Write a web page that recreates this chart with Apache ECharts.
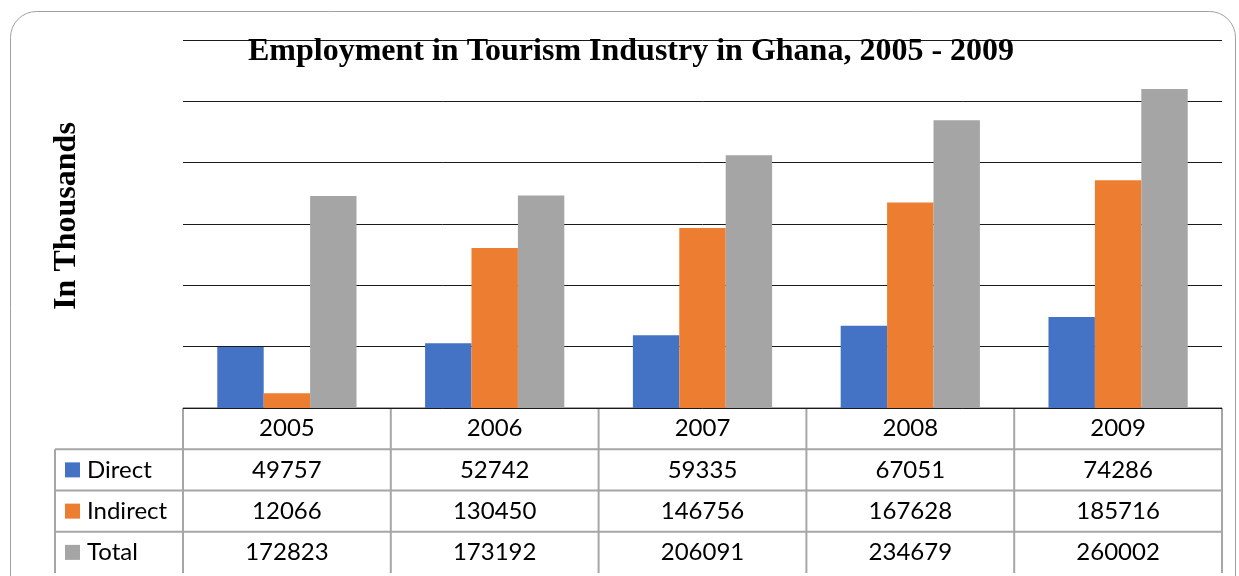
<!DOCTYPE html>
<html>
<head>
<meta charset="utf-8">
<script src="https://cdn.jsdelivr.net/npm/echarts@6/dist/echarts.min.js"></script>
<style>
  html, body { margin: 0; padding: 0; background: #fff; }
  #chart { width: 1239px; height: 576px; }
</style>
</head>
<body>
<div id="chart"></div>
<script>
// Employment in Ghana's tourism industry (thousands)
const years = ['2005', '2006', '2007', '2008', '2009'];
const direct = [49757, 52742, 59335, 67051, 74286];
const indirect = [12066, 130450, 146756, 167628, 185716];
const total = [172823, 173192, 206091, 234679, 260002];
const seriesNames = ['Direct', 'Indirect', 'Total'];
const seriesColors = ['#4472C4', '#ED7D31', '#A5A5A5'];
const seriesData = [direct, indirect, total];

const W = 1239, H = 576;
const plot = { left: 183, right: 1222, top: 40, bottom: 408 };
const tableLeft = 55;
const rowH = (573 - plot.bottom) / 4;
const colW = (plot.right - plot.left) / years.length;
const borderColor = '#a6a6a6';
const tableFont = 'Lato, "Open Sans", sans-serif';
const tableFontSize = 24;

// Data table under the plot: header row of years, then one row per series
function buildTable() {
  const g = [];
  const bw = 2;
  const font = tableFontSize + 'px ' + tableFont;
  // horizontal lines
  g.push({ type: 'line', shape: { x1: plot.left, y1: plot.bottom, x2: plot.right, y2: plot.bottom },
           style: { stroke: borderColor, lineWidth: bw } });
  for (let r = 1; r <= seriesNames.length; r++) {
    const y = plot.bottom + rowH * r;
    g.push({ type: 'line', shape: { x1: tableLeft, y1: y, x2: plot.right, y2: y },
             style: { stroke: borderColor, lineWidth: bw } });
  }
  const yEnd = plot.bottom + rowH * (seriesNames.length + 1);
  // vertical lines
  g.push({ type: 'line', shape: { x1: tableLeft, y1: plot.bottom + rowH, x2: tableLeft, y2: yEnd },
           style: { stroke: borderColor, lineWidth: bw } });
  for (let c = 0; c <= years.length; c++) {
    const x = plot.left + colW * c;
    g.push({ type: 'line', shape: { x1: x, y1: plot.bottom, x2: x, y2: yEnd },
             style: { stroke: borderColor, lineWidth: bw } });
  }
  // header text
  years.forEach((yr, c) => {
    g.push({ type: 'text', x: plot.left + colW * (c + 0.5), y: plot.bottom + rowH * 0.5,
             style: { text: yr, font: font, fill: '#000', align: 'center', verticalAlign: 'middle' } });
  });
  // series rows
  seriesNames.forEach((name, r) => {
    const cy = plot.bottom + rowH * (r + 1.5);
    g.push({ type: 'rect', shape: { x: 65, y: cy - 7.5, width: 15, height: 15 },
             style: { fill: seriesColors[r] } });
    g.push({ type: 'text', x: 87, y: cy,
             style: { text: name, font: font, fill: '#000', align: 'left', verticalAlign: 'middle' } });
    seriesData[r].forEach((v, c) => {
      g.push({ type: 'text', x: plot.left + colW * (c + 0.5), y: cy,
               style: { text: String(v), font: font, fill: '#000', align: 'center', verticalAlign: 'middle' } });
    });
  });
  return g;
}

const chart = echarts.init(document.getElementById('chart'), null, { renderer: 'canvas' });

const graphics = [
  // rounded outer frame
  { type: 'rect', silent: true, z: -10,
    shape: { x: 10.5, y: 11.5, width: 1225, height: 620, r: 26 },
    style: { fill: '#fff', stroke: '#a0a0a0', lineWidth: 1 } },
  // title
  { type: 'text', x: 631, y: 52, z: 100,
    style: { text: 'Employment in Tourism Industry in Ghana, 2005 - 2009',
             font: 'bold 32px "Liberation Serif", "Times New Roman", serif', fill: '#000',
             align: 'center', verticalAlign: 'middle' } },
  // vertical axis title
  { type: 'text', x: 67, y: 216, rotation: Math.PI / 2, z: 100,
    style: { text: 'In Thousands',
             font: 'bold 32px "Liberation Serif", "Times New Roman", serif', fill: '#000',
             align: 'center', verticalAlign: 'middle' } }
].concat(buildTable());

chart.setOption({
  animation: false,
  grid: { left: plot.left, right: W - plot.right, top: plot.top, bottom: H - plot.bottom, containLabel: false },
  xAxis: {
    type: 'category', data: years,
    axisLine: { show: false }, axisTick: { show: false }, axisLabel: { show: false }
  },
  yAxis: {
    type: 'value', min: 0, max: 300000, interval: 50000,
    axisLine: { show: false }, axisTick: { show: false }, axisLabel: { show: false },
    splitLine: { lineStyle: { color: '#1a1a1a', width: 1 } }
  },
  series: seriesNames.map((name, i) => ({
    name: name, type: 'bar', data: seriesData[i],
    barGap: '0%', barCategoryGap: '33%',
    itemStyle: { color: seriesColors[i] }
  })),
  graphic: graphics
});
</script>
</body>
</html>
